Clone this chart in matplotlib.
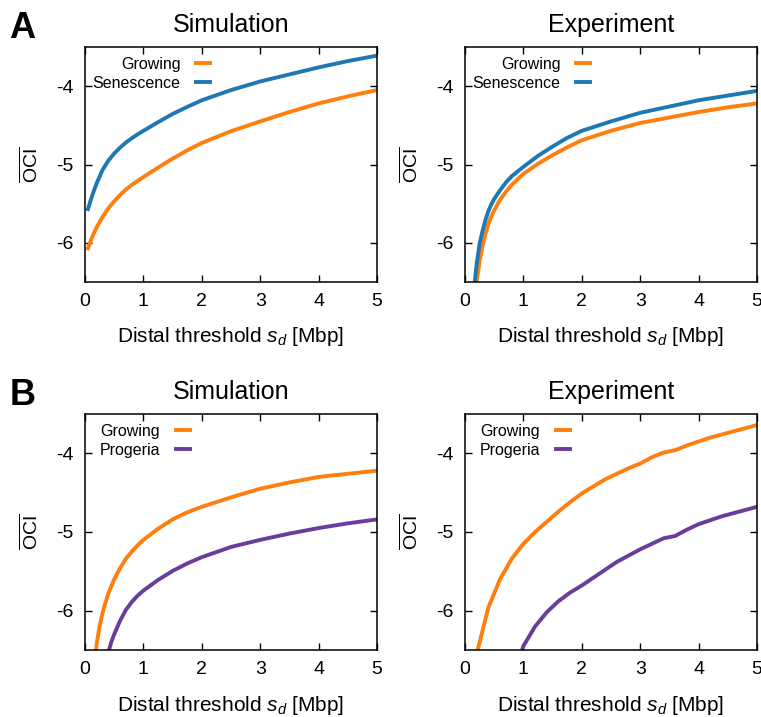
import matplotlib
matplotlib.use("Agg")
import matplotlib.pyplot as plt

plt.rcParams['font.family'] = ['Liberation Sans', 'DejaVu Sans']
plt.rcParams['mathtext.fontset'] = 'custom'
plt.rcParams['mathtext.rm'] = 'Liberation Sans'
plt.rcParams['mathtext.it'] = 'Liberation Sans:italic'
plt.rcParams['mathtext.bf'] = 'Liberation Sans:bold'

# ---------------- data ----------------
# Panel A, Simulation
x_sim_a = [0.05, 0.1, 0.15, 0.2, 0.3, 0.4, 0.5, 0.6, 0.7, 0.8, 0.9, 1.0,
           1.25, 1.5, 1.75, 2.0, 2.5, 3.0, 3.5, 4.0, 4.5, 5.0]
sim_a_growing = [-6.07, -5.97, -5.88, -5.80, -5.67, -5.56, -5.47, -5.39, -5.32, -5.26, -5.21, -5.16,
                 -5.04, -4.925, -4.82, -4.725, -4.575, -4.45, -4.33, -4.22, -4.13, -4.05]
sim_a_senescence = [-5.57, -5.45, -5.34, -5.24, -5.07, -4.95, -4.86, -4.785, -4.72, -4.665, -4.615, -4.57,
                    -4.46, -4.355, -4.265, -4.18, -4.05, -3.94, -3.85, -3.76, -3.68, -3.61]

# Panel A, Experiment
x_exp_a = [0.1, 0.15, 0.2, 0.25, 0.3, 0.35, 0.4, 0.45, 0.5, 0.6, 0.7, 0.8, 0.9, 1.0,
           1.25, 1.5, 1.75, 2.0, 2.5, 3.0, 3.5, 4.0, 4.5, 5.0]
exp_a_growing = [-7.6, -6.95, -6.50, -6.23, -6.04, -5.89, -5.76, -5.665, -5.585, -5.45, -5.35, -5.26, -5.19, -5.12,
                 -4.99, -4.88, -4.78, -4.69, -4.57, -4.47, -4.40, -4.33, -4.27, -4.22]
exp_a_senescence = [-7.3, -6.62, -6.27, -6.01, -5.85, -5.71, -5.595, -5.51, -5.44, -5.33, -5.23, -5.15, -5.09, -5.03,
                    -4.89, -4.77, -4.66, -4.57, -4.45, -4.34, -4.26, -4.18, -4.12, -4.06]

# Panel B, Simulation
x_sim_b = [0.1, 0.15, 0.2, 0.25, 0.3, 0.35, 0.4, 0.45, 0.5, 0.6, 0.7, 0.8, 0.9, 1.0,
           1.25, 1.5, 1.75, 2.0, 2.5, 3.0, 3.5, 4.0, 4.5, 5.0]
sim_b_growing = [-7.6, -6.9, -6.42, -6.20, -6.03, -5.90, -5.78, -5.69, -5.60, -5.46, -5.34, -5.25, -5.17, -5.10,
                 -4.96, -4.84, -4.75, -4.68, -4.56, -4.45, -4.37, -4.30, -4.26, -4.22]
sim_b_progeria = [-8.6, -8.1, -7.7, -7.3, -7.0, -6.75, -6.53, -6.40, -6.30, -6.13, -5.99, -5.89, -5.81, -5.745,
                  -5.61, -5.495, -5.40, -5.32, -5.19, -5.10, -5.02, -4.95, -4.89, -4.84]

# Panel B, Experiment
x_exp_b = [0.2, 0.4, 0.6, 0.8, 1.0, 1.2, 1.4, 1.6, 1.8, 2.0, 2.2, 2.4, 2.6, 2.8, 3.0,
           3.2, 3.4, 3.6, 3.8, 4.0, 4.2, 4.4, 4.6, 4.8, 5.0]
exp_b_growing = [-6.55, -5.96, -5.60, -5.34, -5.15, -5.00, -4.87, -4.74, -4.62, -4.51, -4.42, -4.33, -4.26, -4.19, -4.13,
                 -4.05, -3.99, -3.96, -3.90, -3.85, -3.80, -3.76, -3.72, -3.68, -3.64]
exp_b_progeria = [-9.0, -8.2, -7.6, -6.9, -6.45, -6.20, -6.02, -5.88, -5.77, -5.68, -5.58, -5.48, -5.38, -5.30, -5.22,
                  -5.15, -5.08, -5.05, -4.97, -4.90, -4.85, -4.80, -4.76, -4.72, -4.68]

x_ticks = [0, 1, 2, 3, 4, 5]
y_ticks = [-6, -5, -4]

ORANGE = '#ff7f0e'
BLUE = '#1f77b4'
PURPLE = '#6a3d9a'

W, H = 761, 717
fig = plt.figure(figsize=(W / 100, H / 100), dpi=100)


def px_axes(left, top, right, bottom):
    return fig.add_axes([left / W, 1 - bottom / H, (right - left) / W, (bottom - top) / H])


def style(ax, title, leg_x):
    ax.set_xlim(0, 5)
    ax.set_ylim(-6.5, -3.5)
    ax.set_xticks(x_ticks)
    ax.set_yticks(y_ticks)
    ax.set_xticklabels([str(t) for t in x_ticks])
    ax.set_yticklabels([str(t) for t in y_ticks])
    ax.tick_params(direction='in', top=True, right=True, length=5, width=1,
                   labelsize=14, pad=8)
    for s in ax.spines.values():
        s.set_linewidth(1.1)
    ax.set_title(title, fontsize=18, pad=11)
    ax.set_xlabel('Distal threshold $s_d$ [Mbp]', fontsize=15)
    ax.set_ylabel(r'$\overline{\mathrm{OCI}}$', fontsize=14)
    ax.yaxis.set_label_coords(-0.150, 0.5)
    ax.xaxis.set_label_coords(0.5, -0.185)
    leg = ax.legend(loc='upper right', bbox_to_anchor=(leg_x, 1.0), frameon=False,
                    markerfirst=False, fontsize=11.5, handlelength=0.85,
                    handletextpad=1.0, labelspacing=0.25, borderpad=0.6,
                    borderaxespad=0)
    return leg


LW = 2.8
# Panel A
ax1 = px_axes(85, 47, 377, 282)
ax1.plot(x_sim_a, sim_a_growing, color=ORANGE, lw=LW, label='Growing')
ax1.plot(x_sim_a, sim_a_senescence, color=BLUE, lw=LW, label='Senescence')
style(ax1, 'Simulation', 0.461)

ax2 = px_axes(465, 47, 757, 282)
ax2.plot(x_exp_a, exp_a_growing, color=ORANGE, lw=LW, label='Growing')
ax2.plot(x_exp_a, exp_a_senescence, color=BLUE, lw=LW, label='Senescence')
style(ax2, 'Experiment', 0.461)

# Panel B
ax3 = px_axes(85, 414, 377, 650)
ax3.plot(x_sim_b, sim_b_growing, color=ORANGE, lw=LW, label='Growing')
ax3.plot(x_sim_b, sim_b_progeria, color=PURPLE, lw=LW, label='Progeria')
style(ax3, 'Simulation', 0.392)

ax4 = px_axes(465, 414, 757, 650)
ax4.plot(x_exp_b, exp_b_growing, color=ORANGE, lw=LW, label='Growing')
ax4.plot(x_exp_b, exp_b_progeria, color=PURPLE, lw=LW, label='Progeria')
style(ax4, 'Experiment', 0.392)

fig.text(0.012, 1 - 38 / H, 'A', fontsize=26, fontweight='bold', ha='left', va='baseline')
fig.text(0.012, 1 - 405 / H, 'B', fontsize=26, fontweight='bold', ha='left', va='baseline')

fig.savefig('out.png', dpi=100)
